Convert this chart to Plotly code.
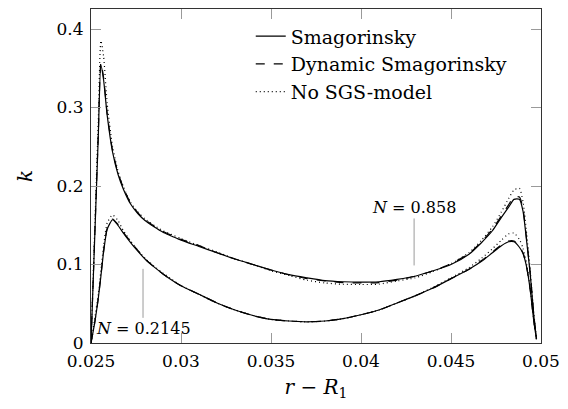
import numpy as np
import plotly.graph_objects as go

# radial coordinate r - R1
r = [0.025, 0.0252, 0.0254, 0.02555, 0.0257, 0.0259, 0.0262, 0.0265, 0.0268, 0.0272,
     0.0276, 0.028, 0.0285, 0.029, 0.0295, 0.030, 0.031, 0.032, 0.033, 0.034,
     0.035, 0.036, 0.037, 0.038, 0.039, 0.040, 0.041, 0.042, 0.043, 0.044,
     0.045, 0.046, 0.0467, 0.0473, 0.0478, 0.0482, 0.0485, 0.0488, 0.0490, 0.0492,
     0.0494, 0.0496, 0.04975]

# N = 0.858
k_smag_hi = [0.0, 0.13, 0.26, 0.354, 0.335, 0.29, 0.243, 0.215, 0.196, 0.177,
             0.165, 0.156, 0.148, 0.141, 0.136, 0.131, 0.123, 0.115, 0.107, 0.100,
             0.093, 0.087, 0.083, 0.0795, 0.078, 0.0775, 0.078, 0.081, 0.085, 0.092,
             0.100, 0.113, 0.128, 0.143, 0.160, 0.173, 0.183, 0.183, 0.168, 0.130,
             0.088, 0.035, 0.005]
k_dyn_hi = [0.0, 0.132, 0.263, 0.357, 0.338, 0.292, 0.245, 0.217, 0.198, 0.178,
            0.166, 0.157, 0.149, 0.142, 0.137, 0.132, 0.124, 0.115, 0.107, 0.100,
            0.093, 0.087, 0.082, 0.079, 0.077, 0.0765, 0.077, 0.080, 0.085, 0.092,
            0.101, 0.114, 0.129, 0.145, 0.162, 0.176, 0.186, 0.186, 0.171, 0.132,
            0.089, 0.036, 0.005]
k_nosgs_hi = [0.0, 0.14, 0.28, 0.385, 0.365, 0.305, 0.250, 0.219, 0.199, 0.179,
              0.167, 0.158, 0.150, 0.143, 0.138, 0.133, 0.124, 0.116, 0.107, 0.100,
              0.092, 0.086, 0.080, 0.0765, 0.0748, 0.0745, 0.075, 0.079, 0.083, 0.091,
              0.101, 0.115, 0.131, 0.148, 0.167, 0.184, 0.195, 0.197, 0.180, 0.140,
              0.093, 0.038, 0.005]

# N = 0.2145
k_smag_lo = [0.0, 0.025, 0.056, 0.085, 0.116, 0.145, 0.157, 0.150, 0.140, 0.128,
             0.117, 0.107, 0.097, 0.088, 0.080, 0.073, 0.062, 0.051, 0.042, 0.035,
             0.030, 0.028, 0.027, 0.028, 0.031, 0.036, 0.042, 0.051, 0.060, 0.070,
             0.082, 0.094, 0.104, 0.115, 0.124, 0.129, 0.129, 0.122, 0.114, 0.097,
             0.068, 0.028, 0.005]
k_dyn_lo = [0.0, 0.025, 0.056, 0.086, 0.117, 0.146, 0.158, 0.151, 0.141, 0.129,
            0.118, 0.107, 0.097, 0.088, 0.080, 0.073, 0.062, 0.051, 0.042, 0.035,
            0.030, 0.028, 0.027, 0.028, 0.031, 0.036, 0.042, 0.051, 0.060, 0.070,
            0.082, 0.094, 0.105, 0.116, 0.125, 0.130, 0.130, 0.123, 0.115, 0.097,
            0.068, 0.028, 0.005]
k_nosgs_lo = [0.0, 0.03, 0.062, 0.092, 0.124, 0.153, 0.163, 0.156, 0.143, 0.130,
              0.118, 0.108, 0.098, 0.089, 0.081, 0.073, 0.062, 0.051, 0.042, 0.035,
              0.030, 0.028, 0.027, 0.028, 0.031, 0.036, 0.042, 0.051, 0.060, 0.071,
              0.083, 0.096, 0.108, 0.120, 0.131, 0.139, 0.140, 0.132, 0.121, 0.101,
              0.070, 0.029, 0.005]

labels = ["Smagorinsky", "Dynamic Smagorinsky", "No SGS-model"]
dashes = ["solid", "dash", "1px,3px"]

x_ticks = [0.025, 0.03, 0.035, 0.04, 0.045, 0.05]
x_tick_text = ["0.025", "0.03", "0.035", "0.04", "0.045", "0.05"]
y_ticks = [0, 0.1, 0.2, 0.3, 0.4]
y_tick_text = ["0", "0.1", "0.2", "0.3", "0.4"]

pin_hi_r = 0.04295
pin_lo_r = 0.02789

FONT = "DejaVu Serif"

fig = go.Figure()
for ks, show in [((k_smag_hi, k_dyn_hi, k_nosgs_hi), True),
                 ((k_smag_lo, k_dyn_lo, k_nosgs_lo), False)]:
    for k, name, d in zip(ks, labels, dashes):
        fig.add_trace(go.Scatter(
            x=r, y=k, mode="lines", name=name, showlegend=show,
            line=dict(color="black", width=1.2, dash=d, shape="spline", smoothing=0.6),
        ))

axis_common = dict(
    showgrid=False, zeroline=False, showline=True, linecolor="#333",
    linewidth=1.2, mirror="ticks", ticks="inside", ticklen=10,
    tickcolor="#9a9a9a", tickwidth=1,
    tickfont=dict(family=FONT, size=17, color="black"),
)
fig.update_xaxes(range=[0.025, 0.05], tickvals=x_ticks, ticktext=x_tick_text,
                 ticklabelstandoff=2,
                 title=dict(text="<i>r</i> − <i>R</i><sub>1</sub>",
                            font=dict(family=FONT, size=20, color="black"), standoff=10),
                 **axis_common)
fig.update_yaxes(range=[0, 0.4255], tickvals=y_ticks, ticktext=y_tick_text,
                 ticklabelstandoff=3,
                 title=dict(text="<i>k</i>", font=dict(family=FONT, size=20, color="black"),
                            standoff=18),
                 **axis_common)

k_hi_at_pin = float(np.interp(pin_hi_r, r, k_smag_hi))
k_lo_at_pin = float(np.interp(pin_lo_r, r, k_smag_lo))

fig.add_annotation(x=pin_hi_r, y=k_hi_at_pin, text="<i>N</i> = 0.858",
                   showarrow=True, arrowhead=0, arrowwidth=1, arrowcolor="#9a9a9a",
                   ax=0, ay=-69, standoff=11,
                   font=dict(family=FONT, size=16, color="black"))
fig.add_annotation(x=pin_lo_r, y=k_lo_at_pin, text="<i>N</i> = 0.2145",
                   showarrow=True, arrowhead=0, arrowwidth=1, arrowcolor="#9a9a9a",
                   ax=0, ay=72, standoff=12,
                   font=dict(family=FONT, size=16, color="black"))

fig.update_layout(
    width=568, height=409,
    margin=dict(l=91, r=27, t=9, b=66),
    paper_bgcolor="white", plot_bgcolor="white",
    font=dict(family=FONT),
    showlegend=True,
    legend=dict(x=0.355, y=0.975, xanchor="left", yanchor="top",
                bgcolor="rgba(0,0,0,0)", borderwidth=0,
                font=dict(family=FONT, size=19, color="black"),
                tracegroupgap=0),
)

fig.write_html("out.html")
